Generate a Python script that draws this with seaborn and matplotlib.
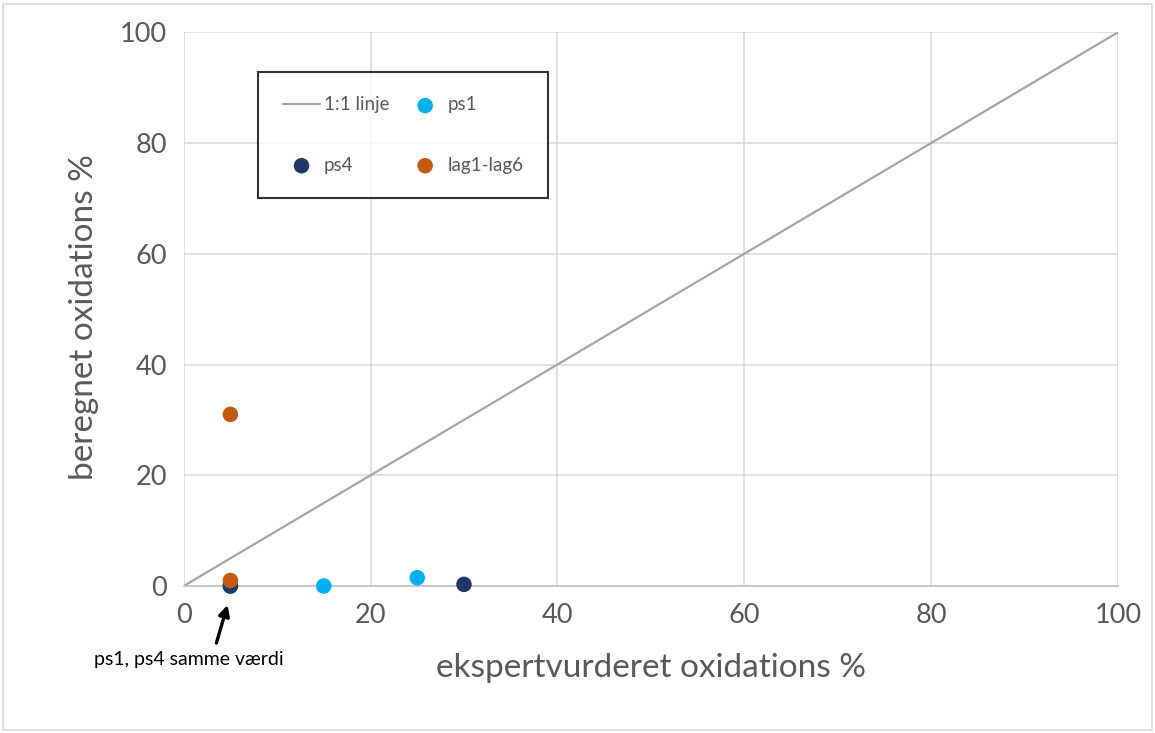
import matplotlib
matplotlib.use("Agg")
import matplotlib.pyplot as plt
import seaborn as sns
import pandas as pd

line_x = [0, 100]
line_y = [0, 100]
ps1_x = [5, 15, 25]
ps1_y = [0, 0, 1.5]
ps4_x = [5, 30]
ps4_y = [0, 0.3]
lag_x = [5, 5]
lag_y = [31, 1]
ticks = [0, 20, 40, 60, 80, 100]

sns.set_style("white")
plt.rcParams['font.family'] = ['Lato', 'DejaVu Sans']

fig = plt.figure(figsize=(11.55, 7.33), dpi=100)
ax = fig.add_axes([0.159, 0.2005, 0.809, 0.7555])

gray_txt = "#595959"
sns.lineplot(x=line_x, y=line_y, ax=ax, color="#A5A5A5", linewidth=1.6, label="1:1 linje", zorder=2)
sns.scatterplot(x=ps1_x, y=ps1_y, ax=ax, color="#00B0F0", s=125, edgecolor="none", label="ps1", zorder=3)
sns.scatterplot(x=ps4_x, y=ps4_y, ax=ax, color="#203864", s=125, edgecolor="none", label="ps4", zorder=3.5)
sns.scatterplot(x=lag_x, y=lag_y, ax=ax, color="#C55A11", s=125, edgecolor="none", label="lag1-lag6", zorder=4)
for c in ax.collections:
    c.set_clip_on(False)

ax.set_xlim(0, 100)
ax.set_ylim(0, 100)
ax.set_xticks(ticks)
ax.set_yticks(ticks)
ax.set_xticklabels([str(t) for t in ticks])
ax.set_yticklabels([str(t) for t in ticks])
ax.tick_params(axis="both", labelsize=19.5, colors=gray_txt, length=0, pad=12)
ax.grid(True, color="#D9D9D9", linewidth=1.1)
for s in ["top", "right", "left"]:
    ax.spines[s].set_visible(False)
ax.spines["bottom"].set_color("#BFBFBF")
ax.spines["bottom"].set_linewidth(1.2)
ax.set_axisbelow(True)

ax.set_xlabel("ekspertvurderet oxidations %", fontsize=24, color=gray_txt, labelpad=18)
ax.set_ylabel("beregnet oxidations %", fontsize=24, color=gray_txt, labelpad=12)
ax.yaxis.set_label_coords(-0.091, 0.485)

handles, labels = ax.get_legend_handles_labels()
order = [labels.index(l) for l in ["1:1 linje", "ps4", "ps1", "lag1-lag6"]]
leg = ax.legend([handles[i] for i in order], [labels[i] for i in order], ncol=2,
                loc="upper left", bbox_to_anchor=(0.080, 0.928), frameon=True, fancybox=False,
                fontsize=13.5, labelspacing=2.3, borderpad=1.3, columnspacing=0.9,
                handlelength=2.0, handletextpad=0.2, borderaxespad=0)
leg.get_frame().set_edgecolor("black")
leg.get_frame().set_linewidth(1.5)
for t in leg.get_texts():
    t.set_color(gray_txt)

ax.annotate("", xy=(4.7, -3.4), xytext=(3.5, -10.3),
            xycoords="data", textcoords="data", annotation_clip=False,
            arrowprops=dict(arrowstyle="-|>", color="black", lw=2.4, shrinkA=0, shrinkB=0,
                            mutation_scale=16))
ax.text(0.6, -13.2, "ps1, ps4 samme værdi", fontsize=14, color="black", ha="center", va="center",
        clip_on=False)

fig.patches.append(plt.Rectangle((0.003, 0.004), 0.994, 0.99, transform=fig.transFigure,
                                 fill=False, edgecolor="#D9D9D9", linewidth=1.2))
fig.savefig("out.png", dpi=100)
